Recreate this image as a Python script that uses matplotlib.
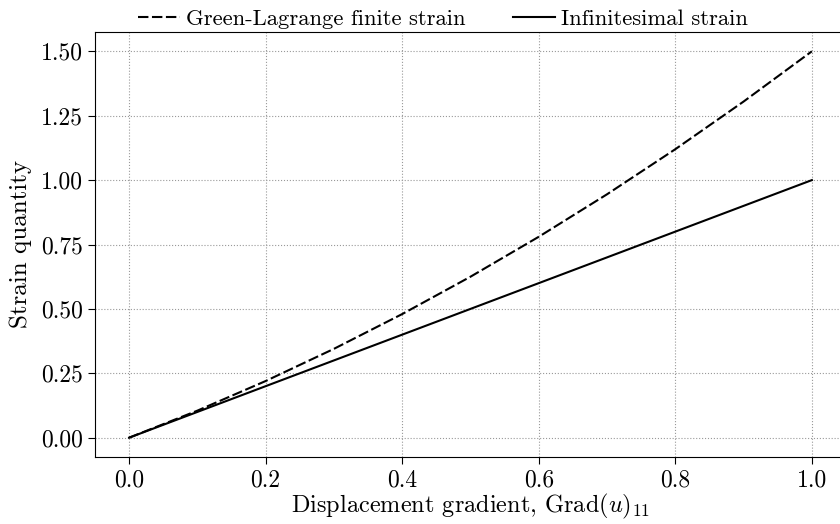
import matplotlib
matplotlib.use("Agg")
import matplotlib.pyplot as plt

plt.rcParams['font.family'] = 'serif'
plt.rcParams['font.serif'] = ['cmr10', 'DejaVu Serif']
plt.rcParams['mathtext.fontset'] = 'cm'
plt.rcParams['axes.formatter.use_mathtext'] = True

grad_u = [0.0, 0.1, 0.2, 0.3, 0.4, 0.5, 0.6, 0.7, 0.8, 0.9, 1.0]
green_lagrange = [0.0, 0.105, 0.22, 0.345, 0.48, 0.625, 0.78, 0.945, 1.12, 1.305, 1.5]
infinitesimal = [0.0, 0.1, 0.2, 0.3, 0.4, 0.5, 0.6, 0.7, 0.8, 0.9, 1.0]

fig = plt.figure(figsize=(8.4, 5.24), dpi=100)
ax = fig.add_axes([95/840, 67/524, (846-95)/840, 425/524])

ax.plot(grad_u, green_lagrange, color='k', ls=(0, (5.0, 1.7)), lw=1.5, label='Green-Lagrange finite strain')
ax.plot(grad_u, infinitesimal, 'k-', lw=1.5, label='Infinitesimal strain')

ax.set_xlim(-0.05, 1.05)
ax.set_ylim(-0.075, 1.575)
ax.set_xticks([0.0, 0.2, 0.4, 0.6, 0.8, 1.0])
ax.set_xticklabels(['0.0', '0.2', '0.4', '0.6', '0.8', '1.0'])
ax.set_yticks([0.0, 0.25, 0.5, 0.75, 1.0, 1.25, 1.5])
ax.set_yticklabels(['0.00', '0.25', '0.50', '0.75', '1.00', '1.25', '1.50'])
ax.tick_params(labelsize=17, length=5, pad=4)
ax.grid(True, linestyle=':', color='0.6', lw=0.8)
ax.set_xlabel(r'Displacement gradient, Grad$(u)_{11}$', fontsize=17.5, labelpad=0)
ax.set_ylabel('Strain quantity', fontsize=18, labelpad=6)

ax.legend(loc='lower center', bbox_to_anchor=((443-95)/751, 0.985), ncol=2, frameon=False,
          fontsize=16.3, handlelength=1.85, handletextpad=0.25, columnspacing=2.1, borderaxespad=0)

fig.savefig('out.png', dpi=100)
